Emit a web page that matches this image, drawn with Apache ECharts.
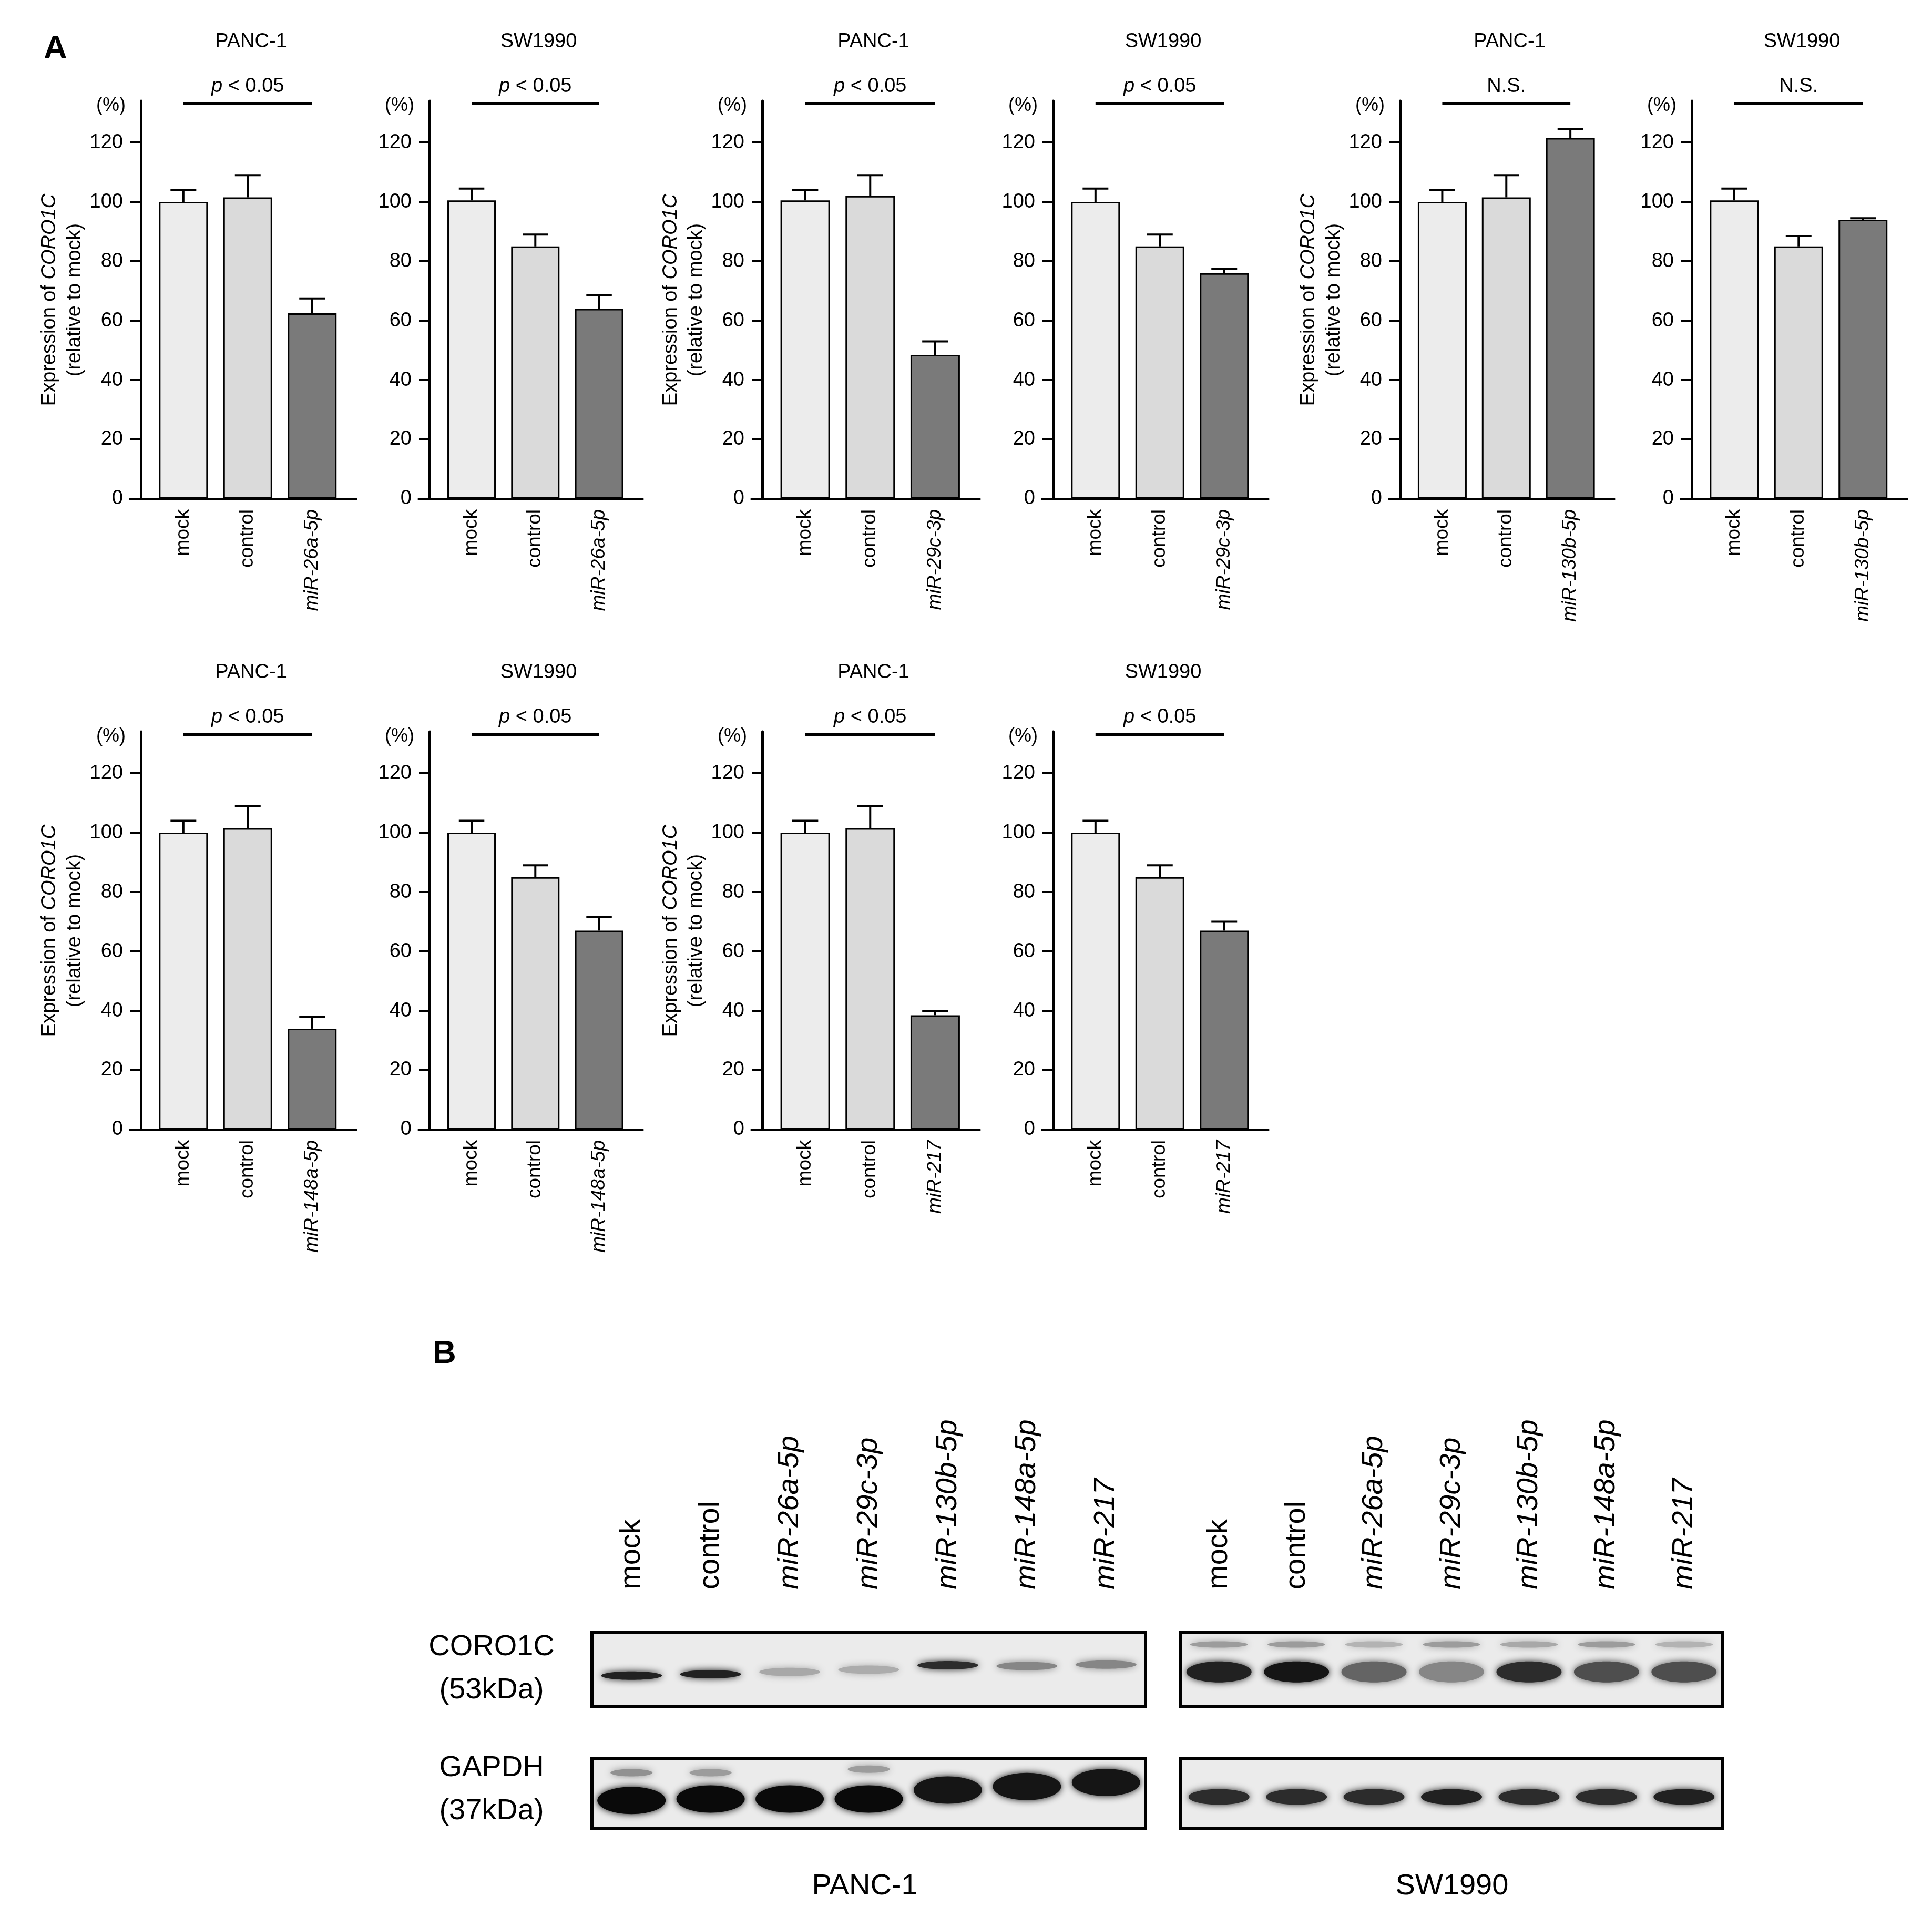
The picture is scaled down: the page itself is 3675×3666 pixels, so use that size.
<!DOCTYPE html>
<html><head><meta charset="utf-8">
<script src="https://cdn.jsdelivr.net/npm/echarts@6/dist/echarts.min.js"></script>
<style>html,body{margin:0;padding:0;background:#fff}#c{width:3675px;height:3666px}</style>
</head><body><div id="c"></div>
<script>
// ---------- DATA (panel A) ----------
const cellLines = ['PANC-1','SW1990','PANC-1','SW1990','PANC-1','SW1990','PANC-1','SW1990','PANC-1','SW1990'];
const mirNames  = ['miR-26a-5p','miR-26a-5p','miR-29c-3p','miR-29c-3p','miR-130b-5p','miR-130b-5p','miR-148a-5p','miR-148a-5p','miR-217','miR-217'];
const sigLabels = ['p','p','p','p','NS','NS','p','p','p','p'];
const mean26P  = [100, 101.5, 62.5];  const err26P  = [4, 7.5, 5];
const mean26S  = [100.5, 85, 64];     const err26S  = [4, 4, 4.5];
const mean29P  = [100.5, 102, 48.5];  const err29P  = [3.5, 7, 4.5];
const mean29S  = [100, 85, 76];       const err29S  = [4.5, 4, 1.5];
const mean130P = [100, 101.5, 121.5]; const err130P = [4, 7.5, 3];
const mean130S = [100.5, 85, 94];     const err130S = [4, 3.5, 0.5];
const mean148P = [100, 101.5, 34];    const err148P = [4, 7.5, 4];
const mean148S = [100, 85, 67];       const err148S = [4, 4, 4.5];
const mean217P = [100, 101.5, 38.5];  const err217P = [4, 7.5, 1.5];
const mean217S = [100, 85, 67];       const err217S = [4, 4, 3];
const yTicks = [0, 20, 40, 60, 80, 100, 120];
// ---------- DATA (panel B) ----------
const lanes = ['mock','control','miR-26a-5p','miR-29c-3p','miR-130b-5p','miR-148a-5p','miR-217'];
const pancCoroDark = [0.9, 0.9, 0.3, 0.28, 0.85, 0.45, 0.45];
const pancCoroY    = [0.42, 0.44, 0.47, 0.50, 0.56, 0.55, 0.57];
const swCoroDark   = [0.9, 0.95, 0.6, 0.45, 0.85, 0.7, 0.7];
const swCoroUpper  = [0.35, 0.35, 0.25, 0.35, 0.3, 0.35, 0.25];
const pancGapdhDark= [1, 1, 1, 1, 0.95, 0.95, 0.95];
const pancGapdhY   = [0.4, 0.42, 0.42, 0.42, 0.55, 0.6, 0.66];
const swGapdhDark  = [0.85, 0.85, 0.85, 0.9, 0.85, 0.85, 0.9];

const means = [mean26P,mean26S,mean29P,mean29S,mean130P,mean130S,mean148P,mean148S,mean217P,mean217S];
const errs  = [err26P,err26S,err29P,err29S,err130P,err130S,err148P,err148S,err217P,err217S];

const FONT = 'Liberation Sans, Arial, sans-serif';
const gx = [268, 817, 1450, 2003, 2663, 3218, 268, 817, 1450, 2003];
const gw = [409, 405, 413, 409, 407, 409, 409, 405, 413, 409];
const rowTop = [192, 192, 192, 192, 192, 192, 1392, 1392, 1392, 1392];
const barColors = ['#ececec', '#dadada', '#7a7a7a'];
const EXT = 20; // x-axis extends left of the y-axis

const grid = [], xAxis = [], yAxis = [], series = [], title = [];
title.push({text:'A', left:78, top:58, textStyle:{fontFamily:FONT, fontSize:62, fontWeight:'bold', color:'#000'}});
title.push({text:'B', left:818, top:2540, textStyle:{fontFamily:FONT, fontSize:62, fontWeight:'bold', color:'#000'}});

for (let i = 0; i < 10; i++) {
  const cats = ['mock', 'control', mirNames[i]];
  const unit = gw[i] / 3.34;
  grid.push({left:gx[i] - EXT, top:rowTop[i], width:gw[i] + EXT, height:757});
  xAxis.push({type:'value', gridIndex:i, min:-0.66 - EXT / unit, max:2.68, splitLine:{show:false},
    axisLine:{show:true, onZero:false, lineStyle:{color:'#000', width:5}}, axisTick:{show:false},
    axisLabel:{rotate:90, margin:20, fontFamily:FONT, fontSize:37, color:'#000', customValues:[0, 1, 2],
      formatter: v => { const n = cats[Math.round(v)]; return n === mirNames[i] ? '{i|' + n + '}' : n; },
      rich:{i:{fontStyle:'italic', fontFamily:FONT, fontSize:37, color:'#000'}}}});
  const y = {type:'value', gridIndex:i, min:0, max:134, offset:-EXT, splitLine:{show:false},
    axisLine:{show:true, onZero:false, lineStyle:{color:'#000', width:5}},
    axisTick:{show:true, length:20, lineStyle:{width:4, color:'#000'}, customValues:yTicks},
    axisLabel:{fontFamily:FONT, fontSize:38, color:'#000', margin:34, customValues:yTicks}};
  if (i % 2 === 0) {
    Object.assign(y, {name:'{a|Expression of }{b|CORO1C}\n{a|(relative to mock)}', nameLocation:'middle', nameRotate:90, nameGap:100,
      nameTextStyle:{lineHeight:48, rich:{a:{fontFamily:FONT, fontSize:38, color:'#000'}, b:{fontFamily:FONT, fontSize:38, fontStyle:'italic', color:'#000'}}}});
  }
  yAxis.push(y);
  const sig = sigLabels[i] === 'p' ? '{i|p} < 0.05' : 'N.S.';
  series.push({type:'bar', xAxisIndex:i, yAxisIndex:i, barWidth:Math.round(unit * 0.76), silent:true,
    data: means[i].map((v, k) => ({value:[k, v], itemStyle:{color:barColors[k], borderColor:'#000', borderWidth:3}})),
    markLine:{silent:true, symbol:'none', lineStyle:{color:'#000', width:5, type:'solid'},
      label:{show:true, position:'insideMiddleTop', distance:14, formatter:sig, color:'#000', fontFamily:FONT, fontSize:38,
        rich:{i:{fontStyle:'italic', fontFamily:FONT, fontSize:38, color:'#000'}}},
      data:[[{coord:[0, 133]}, {coord:[2, 133]}]]}});
  series.push({type:'custom', xAxisIndex:i, yAxisIndex:i, silent:true, z:1,
    data: means[i].map((v, k) => [k, v, errs[i][k]]), encode:{x:0, y:1},
    renderItem:(params, api) => {
      const x = api.value(0), m = api.value(1), e = api.value(2);
      const p0 = api.coord([x, m]), p1 = api.coord([x, m + e]);
      const w = api.size([1, 0])[0] * 0.2;
      return {type:'group', children:[
        {type:'line', shape:{x1:p0[0], y1:p0[1], x2:p1[0], y2:p1[1]}, style:{stroke:'#000', lineWidth:4}},
        {type:'line', shape:{x1:p1[0]-w, y1:p1[1], x2:p1[0]+w, y2:p1[1]}, style:{stroke:'#000', lineWidth:4}}]};
    }});
  title.push({text:cellLines[i], left:gx[i] + gw[i]/2, textAlign:'center', top:rowTop[i] - 136,
    textStyle:{fontFamily:FONT, fontSize:38, fontWeight:'normal', color:'#000'}});
  title.push({text:'(%)', left:gx[i] - 90, top:rowTop[i] - 14,
    textStyle:{fontFamily:FONT, fontSize:36, fontWeight:'normal', color:'#000'}});
}

// ---------- panel B: blot boxes ----------
const blots = [
  {left:1126, top:3106, width:1053, height:141, top_labels:true},
  {left:2245, top:3106, width:1032, height:141, top_labels:true},
  {left:1126, top:3346, width:1053, height:132},
  {left:2245, top:3346, width:1032, height:132}];
const bandSets = [
  pancCoroDark.map((d, k) => [k, pancCoroY[k], d, 8, 58]),
  swCoroDark.map((d, k) => [k, 0.47, d, 20, 62]).concat(swCoroUpper.map((d, k) => [k, 0.84, d, 6, 55])),
  pancGapdhDark.map((d, k) => [k, pancGapdhY[k], d, 26, 65]).concat([[0, 0.8, 0.4, 7, 40], [1, 0.8, 0.35, 7, 40], [3, 0.85, 0.35, 7, 40]]),
  swGapdhDark.map((d, k) => [k, 0.45, d, 15, 58])];
blots.forEach((b, j) => {
  const gi = 10 + j;
  grid.push({left:b.left, top:b.top, width:b.width, height:b.height, show:true, backgroundColor:'#ebebeb', borderColor:'#000', borderWidth:6});
  xAxis.push({type:'category', gridIndex:gi, data:lanes, position:'top', show: !!b.top_labels,
    axisLine:{show:false}, axisTick:{show:false},
    axisLabel:{rotate:90, margin:82, fontFamily:FONT, fontSize:56, color:'#000',
      formatter: v => v.startsWith('miR') ? '{i|' + v + '}' : v,
      rich:{i:{fontStyle:'italic', fontFamily:FONT, fontSize:56, color:'#000'}}}});
  yAxis.push({type:'value', gridIndex:gi, min:0, max:1, show:false});
  series.push({type:'custom', xAxisIndex:gi, yAxisIndex:gi, silent:true, clip:true,
    data: bandSets[j], encode:{x:0, y:1},
    renderItem:(params, api) => {
      const c = api.coord([api.value(0), api.value(1)]);
      const d = api.value(2), g = Math.round(235 - 225 * d);
      const col = 'rgb(' + g + ',' + g + ',' + g + ')';
      return {type:'ellipse', shape:{cx:c[0], cy:c[1], rx:api.value(4), ry:api.value(3)},
        style:{fill:col, shadowBlur:14, shadowColor:col}};
    }});
});

const T = (text, x, y) => ({type:'text', x, y, style:{text, font:'56px ' + FONT, fill:'#000', align:'center', verticalAlign:'middle'}});
const graphic = [T('CORO1C', 935, 3134), T('(53kDa)', 935, 3216), T('GAPDH', 935, 3364), T('(37kDa)', 935, 3446),
  T('PANC-1', 1645, 3589), T('SW1990', 2762, 3589)];

const chart = echarts.init(document.getElementById('c'), null, {renderer:'canvas'});
chart.setOption({backgroundColor:'#fff', animation:false, title, grid, xAxis, yAxis, series, graphic});
</script></body></html>
